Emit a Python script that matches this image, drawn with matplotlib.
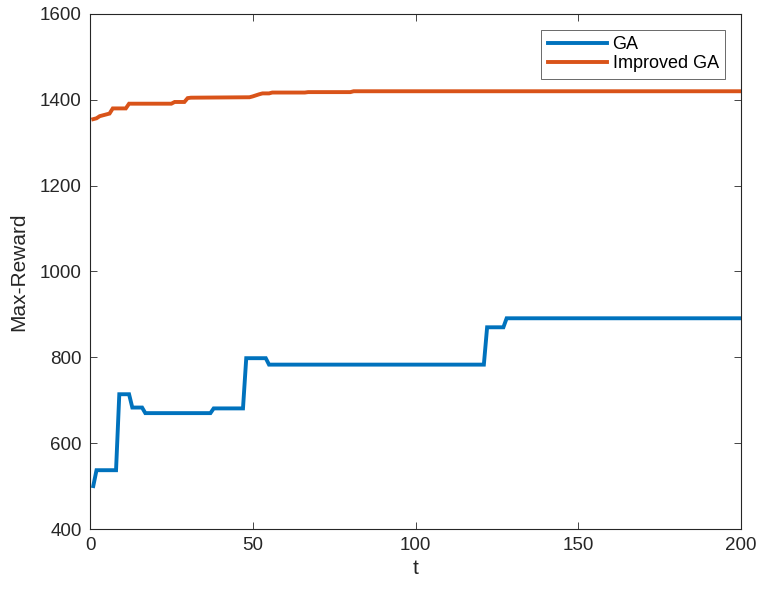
import matplotlib
matplotlib.use("Agg")
import matplotlib.pyplot as plt

# GA (generation, max reward) vertices
ga_t = [1, 2, 8, 9, 12, 13, 16, 17, 37, 38, 47, 48, 54, 55, 121, 122, 127, 128, 200]
ga_v = [500, 537, 537, 714, 714, 683, 683, 670, 670, 681, 681, 798, 798, 783, 783, 870, 870, 891, 891]

# Improved GA vertices
iga_t = [1, 2, 3, 4, 5, 6, 7, 11, 12, 25, 26, 29, 30, 31, 49, 50, 52, 53, 55, 56, 66, 67, 80, 81, 200]
iga_v = [1355, 1357, 1362, 1364, 1366, 1368, 1380, 1380, 1391, 1391, 1395, 1395, 1404, 1405,
         1406, 1408, 1413, 1415, 1415, 1417, 1417, 1418, 1418, 1420, 1420]

xticks = [0, 50, 100, 150, 200]
yticks = [400, 600, 800, 1000, 1200, 1400, 1600]

plt.rcParams['font.family'] = ['Liberation Sans', 'DejaVu Sans']

fig = plt.figure(figsize=(7.6, 5.91), dpi=100)
ax = fig.add_axes([90/760, 1 - 529/591, (741-90)/760, (529-14)/591])

ax.plot(ga_t, ga_v, color='#0072BD', lw=2.8, label='GA', solid_joinstyle='miter')
ax.plot(iga_t, iga_v, color='#D95319', lw=2.8, label='Improved GA', solid_joinstyle='miter')

ax.set_xlim(0, 200)
ax.set_ylim(400, 1600)
ax.set_xticks(xticks)
ax.set_yticks(yticks)
ax.tick_params(direction='in', top=True, right=True, labelsize=13.5, colors='#262626',
               length=5, width=0.6, pad=6)
for s in ax.spines.values():
    s.set_color('#262626')
    s.set_linewidth(0.8)

ax.set_xlabel('t', fontsize=15, color='#262626', labelpad=3)
ax.set_ylabel('Max-Reward', fontsize=15, color='#262626', labelpad=8)

leg = ax.legend(loc='upper right', fontsize=13, frameon=True, fancybox=False,
                edgecolor='#262626', handlelength=3.3, borderpad=0.35, labelspacing=0.12,
                handletextpad=0.3, borderaxespad=0)
leg.get_frame().set_linewidth(0.6)
leg.set_bbox_to_anchor((725/760, 1 - 30/591), transform=fig.transFigure)

fig.savefig('out.png', dpi=100)
